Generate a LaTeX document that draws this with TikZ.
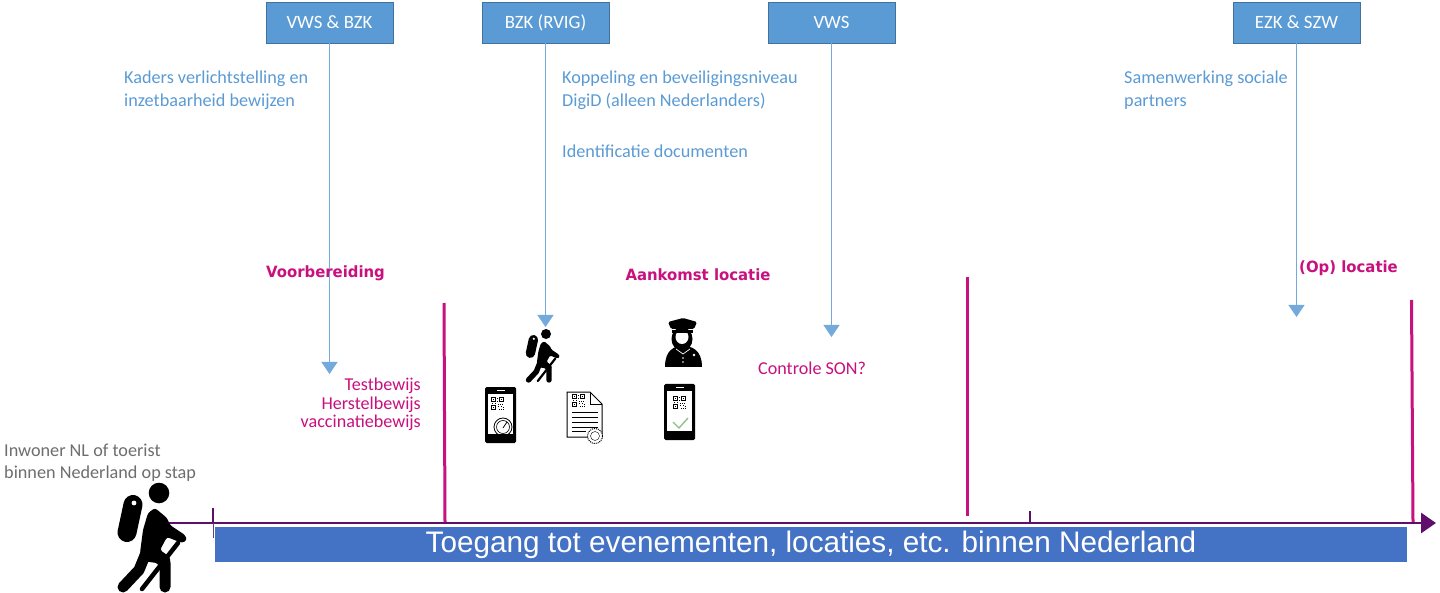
\documentclass[tikz,border=0pt]{standalone}
\usepackage{fontspec}
\setmainfont{Carlito}
\newfontfamily\boldlabel{DejaVu Sans}[FakeStretch=0.96]
\newfontfamily\bannerfont{Liberation Sans}
\usetikzlibrary{arrows.meta}
\definecolor{boxblue}{HTML}{5B9BD5}
\definecolor{boxedge}{HTML}{41719C}
\definecolor{textblue}{HTML}{5B9BD5}
\definecolor{pinkc}{HTML}{C8107E}
\definecolor{purplec}{HTML}{5F0F6B}
\definecolor{bannerblue}{HTML}{4472C4}
\definecolor{greytext}{HTML}{6E6E6E}
\definecolor{checkgreen}{HTML}{8CC084}
\tikzset{
  x=1pt,y=-1pt,
  orgbox/.style={draw=boxedge,line width=0.9pt,fill=boxblue,text=white,minimum width=127pt,minimum height=41pt,inner sep=0pt,font=\fontsize{18.8}{22}\selectfont},
  flow/.style={boxblue!85!white,line width=0.9pt,-{Triangle[width=16pt,length=12pt]}},
  bluetext/.style={text=textblue,anchor=north west,align=left,inner sep=0pt,font=\fontsize{18.2}{22.3}\selectfont},
  headtext/.style={text=pinkc,inner sep=0pt,font=\boldlabel\bfseries\fontsize{15.5}{18}\selectfont},
  pinktext/.style={text=pinkc,inner sep=0pt,font=\fontsize{18.1}{18.3}\selectfont},
  phase/.style={pinkc,line width=3pt},
  axisline/.style={purplec,line width=2.8pt},
  hiker/.pic={
    \fill (41,8) circle (10.3);
    \draw[line width=19pt,line cap=round] (15,19.5) -- (9,47.5);
    \fill[white] (16,18) circle (2.4);
    \fill[rounded corners=2.5pt] (37,23) -- (49,33) -- (52,40) -- (67,50) -- (69,55) -- (64,58) -- (49,52) -- (42,65) -- (52,72) -- (52,80) -- (25,76) -- (22,68) -- (25,45) -- (30,28) -- cycle;
    \draw[line width=11pt,line cap=round,line join=round] (28,68) -- (21,85) -- (5,102);
    \draw[line width=11pt,line cap=round,line join=round] (34,68) -- (47,78) -- (47,102);
    \draw[line width=4.5pt,line cap=round] (60,58) -- (24,104);
  },
  smallhiker/.pic={
    \fill (20,4) circle (5);
    \draw[line width=9.3pt,line cap=round] (7.4,9.6) -- (4.4,23.3);
    \fill[white] (7.8,8.8) circle (1.2);
    \fill[rounded corners=1.2pt] (18.1,11.3) -- (24,16.2) -- (25.5,19.6) -- (32.8,24.5) -- (33.8,27) -- (31.4,28.4) -- (24,25.5) -- (20.6,31.9) -- (25.5,35.3) -- (25.5,39.2) -- (12.3,37.2) -- (10.8,33.3) -- (12.3,22) -- (14.7,13.7) -- cycle;
    \draw[line width=5.4pt,line cap=round,line join=round] (13.7,33.3) -- (10.3,41.7) -- (2.5,50);
    \draw[line width=5.4pt,line cap=round,line join=round] (16.7,33.3) -- (23,38.2) -- (23,50);
    \draw[line width=2.2pt,line cap=round] (29.4,28.4) -- (11.8,51);
  },
  qrcode/.pic={
    \foreach \a/\b in {0/0,8/0,0/8}{
      \fill (\a,\b) rectangle ++(5,5);
      \fill[white] (\a+1,\b+1) rectangle ++(3,3);
      \fill (\a+1.8,\b+1.8) rectangle ++(1.4,1.4);
    }
    \foreach \a/\b in {6/1,6/4,1/6,4/6,6.5/7,9/6.5,11/7,7/9,9.5/9,12/9.5,7.5/12,10/11.5,12/12}{\fill (\a,\b) rectangle ++(1.3,1.3);}
  },
  phonebody/.pic={
    \fill[rounded corners=1.5pt] (0,0) rectangle (31,56);
    \fill[white] (3,7) rectangle (28,47);
    \fill[white] (11.5,2.6) rectangle (19.5,4.4);
  }
}
\begin{document}
\begin{tikzpicture}
\useasboundingbox (0,0) rectangle (1440,593);
\fill[white] (0,0) rectangle (1440,593);

% organisation boxes
\node[orgbox] (vb) at (329.5,22.5) {VWS \& BZK};
\node[orgbox] (br) at (545.5,22.5) {BZK (RVIG)};
\node[orgbox] (vw) at (831.5,22.5) {VWS};
\node[orgbox] (es) at (1296.5,22.5) {EZK \& SZW};

\coordinate (vbend) at (vb.south |- 0,374);
\coordinate (brend) at (br.south |- 0,327);
\coordinate (vwend) at (vw.south |- 0,337);
\coordinate (esend) at (es.south |- 0,317);
\draw[flow] (vb.south) -- (vbend);
\draw[flow] (br.south) -- (brend);
\draw[flow] (vw.south) -- (vwend);
\draw[flow] (es.south) -- (esend);

% blue captions
\node[bluetext] (t1) at (124,71) {Kaders verlichtstelling en\\inzetbaarheid bewijzen};
\node[bluetext] (t2) at (562,71) {Koppeling en beveiligingsniveau\\DigiD (alleen Nederlanders)};
\node[bluetext] (t3) at (562,145) {Identificatie documenten};
\node[bluetext] (t4) at (1124,71) {Samenwerking sociale\\partners};

% phase headings
\node[headtext] (h1) at (325.5,273.5) {Voorbereiding};
\node[headtext] (h2) at (698,274.5) {Aankomst locatie};
\node[headtext] (h3) at (1348.5,268) {(Op) locatie};

% pink captions
\node[pinktext,align=right,anchor=north east] (p1) at (421,378) {Testbewijs\\Herstelbewijs\\vaccinatiebewijs};
\node[pinktext,anchor=west] (p2) at (758,368) {Controle SON?};

\node[text=greytext,anchor=north west,align=left,inner sep=0pt,font=\fontsize{18.2}{21.5}\selectfont] (g1) at (4,444) {Inwoner NL of toerist\\binnen Nederland op stap};

% banner
\node[fill=bannerblue,text=white,minimum width=1192pt,minimum height=35pt,inner sep=0pt,font=\bannerfont\fontsize{29.7}{32}\selectfont] (banner) at (811,544.5) {\raisebox{-1pt}{Toegang tot evenementen, locaties, etc. binnen Nederland}};

% phase bars
\coordinate (a1) at (444,303); \coordinate (a2) at (445,522);
\coordinate (b1) at (967,277); \coordinate (b2) at (967,516);
\coordinate (c1) at (1411.5,300); \coordinate (c2) at (1413,522);
\draw[phase] (a1) -- (a2);
\draw[phase] (b1) -- (b2);
\draw[phase] (c1) -- (c2);

% timeline
\coordinate (tl0) at (168,523); \coordinate (tl1) at (1436,523);
\draw[axisline,-{Triangle[width=20pt,length=15pt]}] (tl0) -- (tl1);
\coordinate (k1) at (213,508); \coordinate (k1b) at (213,523); \coordinate (k1c) at (213,538);
\coordinate (k2) at (1030,511); \coordinate (k2b) at (1030,523);
\draw[purplec,line width=2.4pt] (k1) -- (k1b);
\draw[purplec!60!gray,line width=0.6pt] (k1b) -- (k1c);
\draw[purplec,line width=2.4pt] (k2) -- (k2b);

% hikers
\pic at (118,485) {hiker};
\pic at (526,330) {smallhiker};

% phones
\pic at (485,387) {phonebody};
\pic at (491,397) {qrcode};
\draw[black,line width=0.8pt] (503,427) circle (9);
\draw[black,line width=0.6pt] (503,427) circle (6.5);
\draw[black,line width=0.8pt] (503,428) -- (507,422);

\pic at (664,384) {phonebody};
\pic at (673,396) {qrcode};
\draw[checkgreen,line width=1.3pt] (673,422) -- (679,428) -- (688,418);

% document
\draw[black,line width=1pt,fill=white] (567,392) -- (590,392) -- (602,404) -- (602,437) -- (567,437) -- cycle;
\draw[black,line width=0.9pt] (590,392) -- (590,404) -- (602,404);
\pic at (572,394) {qrcode};
\foreach \yy/\xa in {412/598,417/598,422/598,427/598,431/586}{\draw[black,line width=0.9pt] (572,\yy) -- (\xa,\yy);}
\draw[black,line width=1pt,densely dotted,fill=white] (595,436) circle (7.5);
\draw[black,line width=0.4pt] (595,436) circle (4.5);

% officer
\fill (665,367) .. controls (665,350) and (674,346) .. (683,346) .. controls (692,346) and (702,350) .. (702,367) -- cycle;
\fill (682,339) ellipse (10.5 and 12);
\fill[white] (682,337) ellipse (6.5 and 7);
\fill[rounded corners=1.5pt] (668,322) -- (683,318) -- (697,322) -- (694,329) -- (671,329) -- cycle;
\fill (672,330) rectangle (693,333);
\draw[white,line width=0.7pt] (676,349) -- (683,354) -- (690,349);
\fill[white] (683,358) circle (0.8) (683,362) circle (0.8) (694,355) circle (1.4);
\end{tikzpicture}
\end{document}
